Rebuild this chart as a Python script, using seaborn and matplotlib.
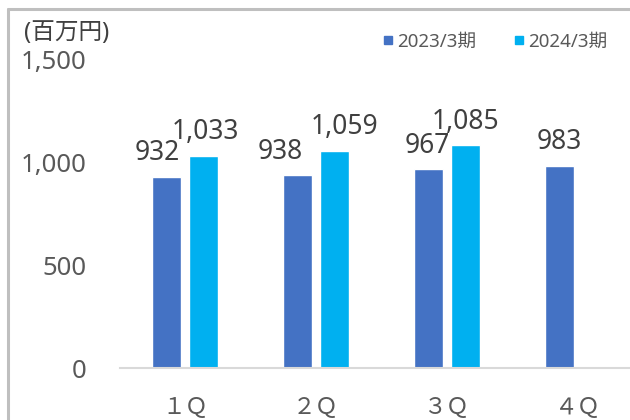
import matplotlib
matplotlib.use("Agg")
import matplotlib.pyplot as plt
from matplotlib.lines import Line2D
import pandas as pd
import seaborn as sns

# Quarterly figures (millions of yen)
quarters = ["１Ｑ", "２Ｑ", "３Ｑ", "４Ｑ"]
periods = ["2023/3期", "2024/3期"]
values_2023 = [932, 938, 967, 983]
values_2024 = [1033, 1059, 1085, None]
yticks = [0, 500, 1000, 1500]
unit_label = "(百万円)"

colors = ["#4472C4", "#00B0F0"]
latin = ["Noto Sans", "Noto Sans CJK JP"]

sns.set_theme(style="white")
plt.rcParams["font.family"] = ["Noto Sans CJK JP", "DejaVu Sans"]

rows = []
for q, a, b in zip(quarters, values_2023, values_2024):
    rows.append({"quarter": q, "period": periods[0], "value": a})
    rows.append({"quarter": q, "period": periods[1], "value": b})
df = pd.DataFrame(rows)

fig = plt.figure(figsize=(6.3, 4.2), dpi=100)
ax = fig.add_axes([120 / 630, 1 - 368 / 420, 510 / 630, 308 / 420])

sns.barplot(data=df, x="quarter", y="value", hue="period", order=quarters,
            hue_order=periods, palette=colors, width=0.565, gap=0.216,
            saturation=1, legend=False, ax=ax)

ax.set_ylim(0, 1500)
ax.set_xlim(-0.496, 3.397)
ax.set_yticks(yticks)
ax.set_yticklabels([f"{v:,}" for v in yticks], family=latin, fontsize=18.5,
                   color="#595959", fontweight="light")
ax.set_xlabel("")
ax.set_ylabel("")
ax.tick_params(axis="y", pad=24, length=0)
ax.tick_params(axis="x", labelsize=16.5, labelcolor="#595959", pad=20, length=0)
for s in ["top", "right", "left"]:
    ax.spines[s].set_visible(False)
ax.spines["bottom"].set_color("#D9D9D9")
ax.spines["bottom"].set_linewidth(1.5)

# value labels above each bar
label_dx = [[-9, -17, -1, 0], [2, 10, 0, 0]]
for ci, cont in enumerate(ax.containers):
    for bi, bar in enumerate(cont):
        h = bar.get_height()
        if h is None or h != h or h == 0:
            continue
        ax.annotate(f"{h:,.0f}", (bar.get_x() + bar.get_width() / 2, h),
                    xytext=(label_dx[ci][bi] * 0.72, 12), textcoords="offset points",
                    ha="center", va="baseline", fontsize=19, color="#404040",
                    family=latin, fontweight="light")

# unit label
fig.text(24 / 630, 1 - 33 / 420, unit_label, fontsize=17, color="#404040",
         ha="left", va="center", family=latin)

# legend
handles = [Line2D([], [], marker="s", linestyle="none", markersize=6,
                  markerfacecolor=c, markeredgecolor=c) for c in colors]
leg = fig.legend(handles, periods, loc="center right",
                 bbox_to_anchor=(624 / 630, 1 - 42 / 420),
                 ncol=2, frameon=False, labelcolor="#595959",
                 handletextpad=0.15, columnspacing=1.9, handlelength=0.7,
                 prop={"family": latin, "size": 13.5})

# outer frame lines
fig.add_artist(Line2D([8 / 630, 8 / 630], [0, 1 - 9 / 420], color="#BFBFBF", lw=2.2,
                      transform=fig.transFigure))
fig.add_artist(Line2D([8 / 630, 1], [1 - 9 / 420, 1 - 9 / 420], color="#BFBFBF", lw=2.2,
                      transform=fig.transFigure))

fig.savefig("out.png", dpi=100)
